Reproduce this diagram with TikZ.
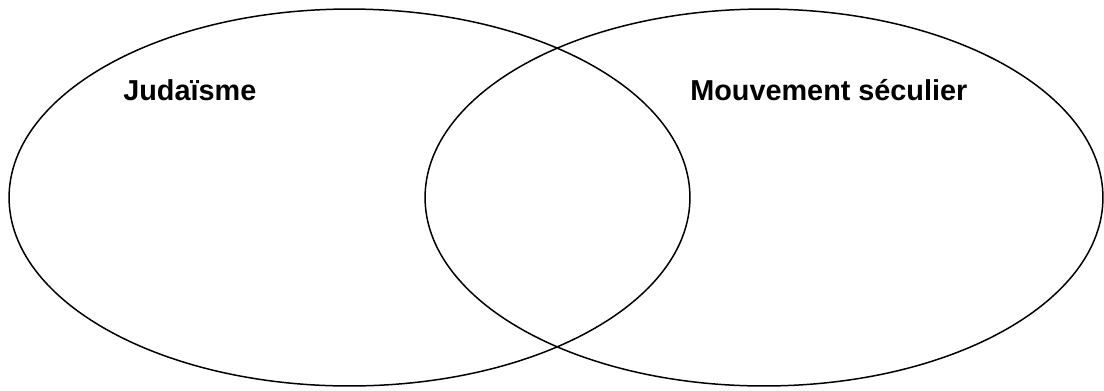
\documentclass[tikz,border=0pt]{standalone}
\usepackage{fontspec}
\setmainfont{Liberation Sans}
\usetikzlibrary{shapes.geometric}

\begin{document}
\begin{tikzpicture}[x=0.02cm, y=-0.02cm, every node/.style={font=\fontsize{16.4}{19}\selectfont\bfseries},
	set/.style={draw, ellipse, line width=0.85pt, inner sep=0pt}]
	\useasboundingbox (0,0) rectangle (1104,390);
	% the two sets
	\node[set, minimum width=13.62cm, minimum height=7.54cm] (judaisme) at (349.5,197.5) {};
	\node[set, minimum width=13.56cm, minimum height=7.54cm] (seculier) at (764,197.5) {};
	% labels
	\node[anchor=base west, inner sep=0pt] (labelj) at (123,100) {Judaïsme};
	\node[anchor=base west, inner sep=0pt] (labels) at (690,100) {Mouvement séculier};
\end{tikzpicture}
\end{document}
